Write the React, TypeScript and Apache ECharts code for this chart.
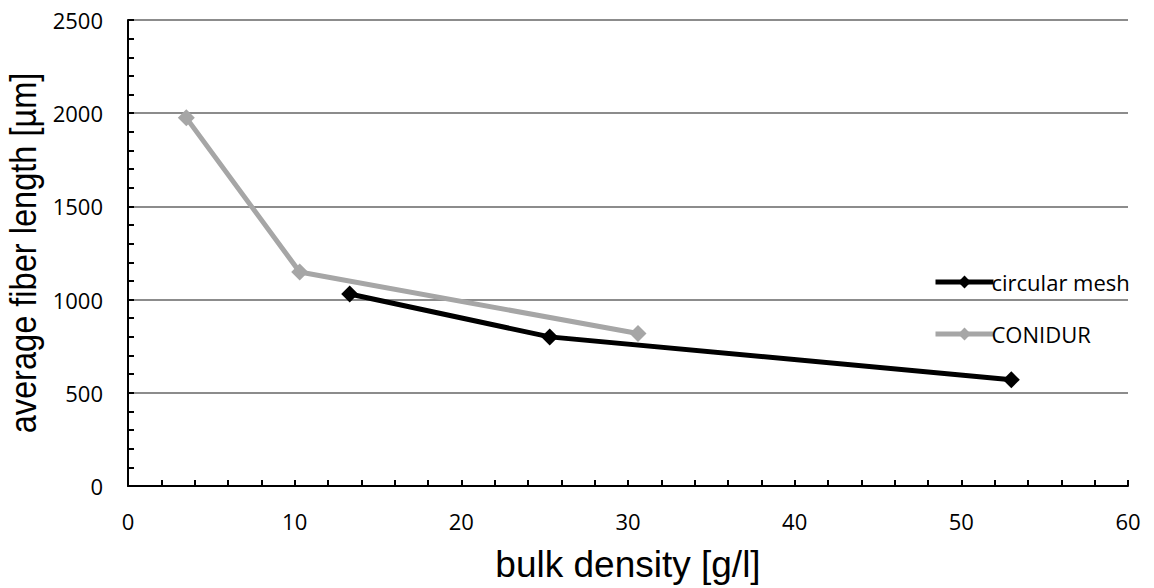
import React, { useEffect, useRef } from "react";
import * as echarts from "echarts";

// bulk density [g/l] vs. average fiber length [µm]
const circularMeshX = [13.3, 25.3, 53.0];
const circularMeshY = [1030, 800, 570];
const conidurX = [3.5, 10.3, 30.6];
const conidurY = [1975, 1148, 818];

const seriesNames = ["circular mesh", "CONIDUR"];
const xTicks = [0, 10, 20, 30, 40, 50, 60];
const yTicks = [0, 500, 1000, 1500, 2000, 2500];

const pairs = (xs: number[], ys: number[]) => xs.map((x, i) => [x, ys[i]]);

export default function App() {
  const ref = useRef<HTMLDivElement>(null);

  useEffect(() => {
    if (!ref.current) return;
    const chart = echarts.init(ref.current, undefined, { renderer: "svg" });
    const tickFont = { fontFamily: "'Open Sans', 'Noto Sans', sans-serif", fontSize: 22, color: "#000" };
    const titleFamily = "'Liberation Sans', Arial, sans-serif";
    chart.setOption({
      animation: false,
      backgroundColor: "#fff",
      grid: { left: 128, right: 26, top: 20, bottom: 102, containLabel: false },
      legend: {
        orient: "vertical",
        left: 928,
        top: 266,
        itemWidth: 58,
        itemHeight: 16,
        itemGap: 30,
        data: seriesNames,
        lineStyle: { width: 5 },
        textStyle: { ...tickFont, fontSize: 22, padding: [0, 0, 0, -7] },
      },
      graphic: [
        {
          type: "text",
          x: 23,
          y: 253,
          rotation: Math.PI / 2,
          scaleX: 0.88,
          style: {
            text: "average fiber length [µm]",
            fontFamily: titleFamily,
            fontSize: 37,
            fill: "#000",
            align: "center",
            verticalAlign: "middle",
          },
        },
      ],
      xAxis: {
        type: "value",
        min: xTicks[0],
        max: xTicks[xTicks.length - 1],
        interval: 10,
        name: "bulk density [g/l]",
        nameLocation: "middle",
        nameGap: 60,
        nameTextStyle: { fontFamily: titleFamily, fontSize: 37, color: "#000" },
        axisLine: { lineStyle: { color: "#000", width: 2 } },
        axisTick: { inside: true, length: 6, lineStyle: { color: "#000", width: 2 } },
        minorTick: { show: true, splitNumber: 5, length: 6, lineStyle: { color: "#000", width: 2 } },
        axisLabel: { ...tickFont, margin: 24, formatter: (v: number) => String(v) },
        splitLine: { show: false },
      },
      yAxis: {
        type: "value",
        min: yTicks[0],
        max: yTicks[yTicks.length - 1],
        interval: 500,
        axisLine: { show: true, lineStyle: { color: "#000", width: 2 } },
        axisTick: { show: true, inside: true, length: 6, lineStyle: { color: "#000", width: 2 } },
        minorTick: { show: true, splitNumber: 5, length: 6, lineStyle: { color: "#000", width: 2 } },
        axisLabel: { ...tickFont, margin: 25, formatter: (v: number) => String(v) },
        splitLine: { show: true, lineStyle: { color: "#8c8c8c", width: 2 } },
      },
      series: [
        {
          name: seriesNames[0],
          type: "line",
          data: pairs(circularMeshX, circularMeshY),
          symbol: "diamond",
          symbolSize: 17,
          color: "#000",
          lineStyle: { color: "#000", width: 5 },
          itemStyle: { color: "#000" },
          z: 3,
        },
        {
          name: seriesNames[1],
          type: "line",
          data: pairs(conidurX, conidurY),
          symbol: "diamond",
          symbolSize: 17,
          color: "#a6a6a6",
          lineStyle: { color: "#a6a6a6", width: 5 },
          itemStyle: { color: "#a6a6a6" },
          z: 2,
        },
      ],
    });
    return () => chart.dispose();
  }, []);

  return (
    <div
      ref={ref}
      style={{ position: "fixed", left: 0, top: 0, width: 1154, height: 588, background: "#fff" }}
    />
  );
}
